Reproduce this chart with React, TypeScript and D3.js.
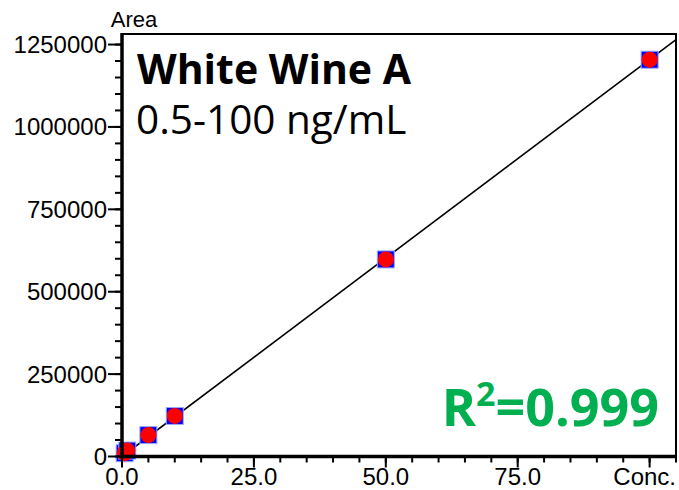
import React, { useEffect, useRef } from "react";
import * as d3 from "d3";

// calibration points
const concValues = [0.5, 1, 5, 10, 50, 100];
const areaValues = [10000, 18000, 65000, 123000, 598000, 1204000];

// regression line end points
const fitConc = [0, 105];
const fitArea = [0, 1265000];

const xTicks = [0, 25, 50, 75, 100];
const xTickLabels = ["0.0", "25.0", "50.0", "75.0", "Conc."];
const yTicks = [0, 250000, 500000, 750000, 1000000, 1250000];

const title = "White Wine A";
const subtitle = "0.5-100 ng/mL";

const App = () => {
    const svgRef = useRef<SVGSVGElement>(null);

    useEffect(() => {
        const svg = d3.select(svgRef.current);
        svg.selectAll("*").remove();

        const left = 122, right = 676, top = 34, bottom = 456.5;

        const x = d3.scaleLinear().domain([0, 105]).range([left, right]);
        const y = d3.scaleLinear().domain([0, 1282000]).range([bottom, top]);

        const axisFont = "'Liberation Sans', Arial, sans-serif";

        // frame
        svg.append("rect")
            .attr("x", left).attr("y", top)
            .attr("width", right - left).attr("height", bottom - top)
            .attr("fill", "white")
            .attr("stroke", "black")
            .attr("stroke-width", 2);

        // regression line
        const line = d3.line<number>()
            .x(d => x(fitConc[d]))
            .y(d => y(fitArea[d]));
        svg.append("path")
            .attr("d", line([0, 1]))
            .attr("fill", "none")
            .attr("stroke", "black")
            .attr("stroke-width", 1.6);

        // markers
        const pts = concValues.map((c, i) => ({ c, a: areaValues[i] }));
        svg.selectAll(".sq")
            .data(pts)
            .join("rect")
            .attr("x", d => x(d.c) - 8.5)
            .attr("y", d => y(d.a) - 8.5)
            .attr("width", 17).attr("height", 17)
            .attr("fill", "#0000ff")
            .attr("stroke", "#9aa8ff")
            .attr("stroke-width", 1);
        svg.selectAll(".dot")
            .data(pts)
            .join("circle")
            .attr("cx", d => x(d.c))
            .attr("cy", d => y(d.a))
            .attr("r", 8)
            .attr("fill", "#ff0000");

        // y axis
        const yMinor = d3.range(0, 1280001, 50000);
        svg.selectAll(".ymin")
            .data(yMinor)
            .join("line")
            .attr("x1", left - 7).attr("x2", left)
            .attr("y1", d => y(d)).attr("y2", d => y(d))
            .attr("stroke", "black").attr("stroke-width", 2);
        svg.selectAll(".ymaj")
            .data(yTicks)
            .join("line")
            .attr("x1", left - 14).attr("x2", left)
            .attr("y1", d => y(d)).attr("y2", d => y(d))
            .attr("stroke", "black").attr("stroke-width", 2);
        svg.selectAll(".ylab")
            .data(yTicks)
            .join("text")
            .attr("x", left - 15)
            .attr("y", d => y(d) + 8.5)
            .attr("text-anchor", "end")
            .attr("font-family", axisFont)
            .attr("font-size", 24)
            .text(d => String(d));

        // x axis
        const xMinor = d3.range(0, 106, 5);
        svg.selectAll(".xmin")
            .data(xMinor)
            .join("line")
            .attr("x1", d => x(d)).attr("x2", d => x(d))
            .attr("y1", bottom).attr("y2", bottom + 6)
            .attr("stroke", "black").attr("stroke-width", 2);
        svg.selectAll(".xmaj")
            .data(xTicks)
            .join("line")
            .attr("x1", d => x(d)).attr("x2", d => x(d))
            .attr("y1", bottom).attr("y2", bottom + 11)
            .attr("stroke", "black").attr("stroke-width", 2);
        // last label ("Conc.") is right-aligned to the frame so it stays on the page
        svg.selectAll(".xlab")
            .data(xTicks)
            .join("text")
            .attr("x", (d, i) => i === xTicks.length - 1 ? right : x(d))
            .attr("y", 485)
            .attr("text-anchor", (d, i) => i === xTicks.length - 1 ? "end" : "middle")
            .attr("font-family", axisFont)
            .attr("font-size", 24)
            .text((d, i) => xTickLabels[i]);

        // thick axis lines
        svg.append("line")
            .attr("x1", left).attr("x2", left)
            .attr("y1", top - 1).attr("y2", bottom + 2)
            .attr("stroke", "black").attr("stroke-width", 3.5);
        svg.append("line")
            .attr("x1", left - 1).attr("x2", right)
            .attr("y1", bottom).attr("y2", bottom)
            .attr("stroke", "black").attr("stroke-width", 3.5);

        svg.append("text")
            .attr("x", 134).attr("y", 27)
            .attr("text-anchor", "middle")
            .attr("font-family", axisFont)
            .attr("font-size", 22)
            .text("Area");

        // annotations
        const annoFont = "'Open Sans', 'Noto Sans', sans-serif";
        svg.append("text")
            .attr("x", 137).attr("y", 84)
            .attr("font-family", annoFont)
            .attr("font-weight", "bold")
            .attr("font-size", 41)
            .text(title);
        svg.append("text")
            .attr("x", 136).attr("y", 134)
            .attr("font-family", annoFont)
            .attr("font-size", 40.5)
            .text(subtitle);

        const r2 = svg.append("text")
            .attr("x", 659).attr("y", 426)
            .attr("text-anchor", "end")
            .attr("font-family", annoFont)
            .attr("font-weight", "bold")
            .attr("font-size", 52)
            .attr("fill", "#00b050");
        r2.append("tspan").text("R");
        r2.append("tspan").attr("font-size", 34).attr("dy", -20).text("2");
        r2.append("tspan").attr("dy", 20).text("=0.999");
    }, []);

    return (
        <svg ref={svgRef} width={679} height={490}
            style={{ position: "absolute", left: 0, top: 0, background: "white" }} />
    );
};

export default App;
